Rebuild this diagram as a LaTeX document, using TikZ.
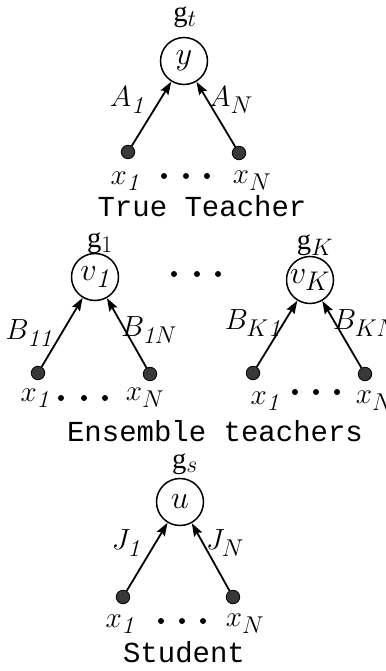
\documentclass[tikz,border=0pt]{standalone}
\usepackage{fontspec}
\usepackage{graphicx}
\setmonofont{Liberation Mono}
\newfontfamily\gfont{Liberation Serif}
\usetikzlibrary{arrows.meta}
\newcommand{\lbtxt}[1]{\scalebox{1.17}{\fontsize{24.88}{25}\selectfont$#1$}}
\newcommand{\citxt}[1]{\scalebox{1.3}{\fontsize{24.88}{25}\selectfont$#1$}}
\newcommand{\gtxt}[1]{\scalebox{1.15}{\fontsize{24.88}{25}\selectfont{\gfont g}$_{#1}$}}
\tikzset{
 unit/.style={circle,draw,line width=1.5pt,minimum size=47pt,inner sep=0pt},
 inp/.style={circle,draw,line width=0.8pt,fill=black!78,minimum size=13.5pt,inner sep=0pt},
 conn/.style={-{Stealth[length=13pt,width=9pt,inset=2pt]},line width=1.8pt},
 lab/.style={inner sep=0pt},
 ttl/.style={font=\fontsize{29}{29}\selectfont\ttfamily,inner sep=0pt},
 ell/.style={circle,fill=black,minimum size=6pt,inner sep=0pt},
}
\begin{document}
\begin{tikzpicture}[x=1pt,y=-1pt]
\useasboundingbox (0,0) rectangle (385,671);
% True teacher
\node[unit] (t) at (184,61) {\citxt{y}};
\node[lab] (tg) at (185,17) {\gtxt{t}};
\node[inp] (tl) at (128,152) {};
\node[inp] (tr) at (239,153) {};
\draw[conn] (tl) -- (t);
\draw[conn] (tr) -- (t);
\node[lab] (ta1) at (127,100) {\lbtxt{A_{\mathit{1}}}};
\node[lab] (taN) at (231,100) {\lbtxt{A_N}};
\node[lab] (tx1) at (125,181) {\lbtxt{x_{\mathit{1}}}};
\node[lab] (txN) at (252,181) {\lbtxt{x_N}};
\node[ell] (te1) at (164,176) {};
\node[ell] (te2) at (186,176) {};
\node[ell] (te3) at (207,176) {};
\node[ttl] (tt) at (202,206) {True Teacher};
% Ensemble teacher 1
\node[unit] (e) at (95,277) {\citxt{v_{\mathit{1}}}};
\node[lab] (eg) at (100,243) {\gtxt{1}};
\node[inp] (el) at (38,373) {};
\node[inp] (er) at (150,374) {};
\draw[conn] (el) -- (e);
\draw[conn] (er) -- (e);
\node[lab] (eb1) at (29,333) {\lbtxt{B_{\mathit{11}}}};
\node[lab] (ebN) at (149,330) {\lbtxt{B_{\mathit{1}N}}};
\node[lab] (ex1) at (35,398) {\lbtxt{x_{\mathit{1}}}};
\node[lab] (exN) at (145,398) {\lbtxt{x_N}};
\node[ell] (ee1) at (61,398) {};
\node[ell] (ee2) at (84,398) {};
\node[ell] (ee3) at (105,398) {};
% middle dots
\node[ell] (m1) at (174,274) {};
\node[ell] (m2) at (197,274) {};
\node[ell] (m3) at (218,274) {};
% Ensemble teacher K
\node[unit] (k) at (310,280) {\citxt{v_K}};
\node[lab] (kg) at (315,245) {\gtxt{K}};
\node[inp] (kl) at (253,373) {};
\node[inp] (kr) at (365,374) {};
\draw[conn] (kl) -- (k);
\draw[conn] (kr) -- (k);
\node[lab] (kb1) at (253,323) {\lbtxt{B_{K\mathit{1}}}};
\node[lab] (kbN) at (366,323) {\lbtxt{B_{KN}}};
\node[lab] (kx1) at (265,401) {\lbtxt{x_{\mathit{1}}}};
\node[lab] (kxN) at (375,401) {\lbtxt{x_N}};
\node[ell] (ke1) at (295,392) {};
\node[ell] (ke2) at (316,392) {};
\node[ell] (ke3) at (337,392) {};
\node[ttl] (et) at (215,431) {Ensemble teachers};
% Student
\node[unit] (s) at (180,502) {\citxt{u}};
\node[lab] (sg) at (185,464) {\gtxt{s}};
\node[inp] (sl) at (123,597) {};
\node[inp] (sr) at (233,597) {};
\draw[conn] (sl) -- (s);
\draw[conn] (sr) -- (s);
\node[lab] (sj1) at (126,543) {\lbtxt{J_{\mathit{1}}}};
\node[lab] (sjN) at (225,543) {\lbtxt{J_N}};
\node[lab] (sx1) at (120,624) {\lbtxt{x_{\mathit{1}}}};
\node[lab] (sxN) at (245,624) {\lbtxt{x_N}};
\node[ell] (se1) at (161,621) {};
\node[ell] (se2) at (182,621) {};
\node[ell] (se3) at (203,621) {};
\node[ttl] (st) at (184,652) {Student};
\end{tikzpicture}
\end{document}
